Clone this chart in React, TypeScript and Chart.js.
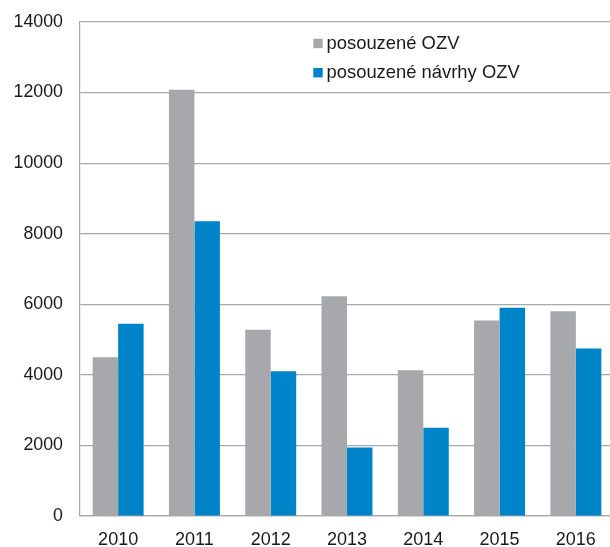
import React, { useEffect, useRef } from "react";
import { Chart, registerables } from "chart.js";

Chart.register(...registerables);

const categories = ["2010", "2011", "2012", "2013", "2014", "2015", "2016"];
const seriesOZV = [4500, 12080, 5280, 6230, 4130, 5540, 5800];
const seriesNavrhy = [5450, 8350, 4100, 1940, 2500, 5900, 4750];
const seriesLabels = ["posouzené OZV", "posouzené návrhy OZV"];
const seriesColors = ["#a7a8ab", "#0084c9"];
const yTicks = [0, 2000, 4000, 6000, 8000, 10000, 12000, 14000];

const FONT = "'Liberation Sans', Arial, sans-serif";

const legendPlugin = {
  id: "insideLegend",
  afterDraw(chart: any) {
    const ctx = chart.ctx;
    ctx.save();
    ctx.font = `18.4px ${FONT}`;
    ctx.textBaseline = "middle";
    ctx.textAlign = "left";
    chart.data.datasets.forEach((ds: any, i: number) => {
      const y = 43.5 + i * 29.2;
      ctx.fillStyle = ds.backgroundColor;
      ctx.fillRect(313.3, y - 4.7, 9.4, 9.4);
      ctx.fillStyle = "#1a1a1a";
      ctx.fillText(ds.label, 326.5, y + 0.5);
    });
    ctx.restore();
  },
};

export default function App() {
  const ref = useRef<HTMLCanvasElement | null>(null);
  useEffect(() => {
    document.body.style.margin = "0";
    document.body.style.overflow = "hidden";
    const chart = new Chart(ref.current as HTMLCanvasElement, {
      type: "bar",
      data: {
        labels: categories,
        datasets: [
          { label: seriesLabels[0], data: seriesOZV, backgroundColor: seriesColors[0] },
          { label: seriesLabels[1], data: seriesNavrhy, backgroundColor: seriesColors[1] },
        ],
      },
      options: {
        responsive: false,
        animation: false,
        layout: { padding: { top: 22, right: 2, left: 0, bottom: 0 } },
        datasets: { bar: { barPercentage: 1, categoryPercentage: 0.668 } },
        plugins: { legend: { display: false }, tooltip: { enabled: false } },
        scales: {
          x: {
            grid: { display: false, drawTicks: false },
            border: { display: true, color: "#a9a9a9", width: 1.2 },
            ticks: { color: "#1a1a1a", font: { family: FONT, size: 18 }, padding: 13 },
            afterFit: (s: any) => {
              s.height = 31;
              s.paddingLeft = 0;
              s.paddingRight = 0;
            },
          },
          y: {
            min: 0,
            max: 14000,
            afterBuildTicks: (s: any) => { s.ticks = yTicks.map((v) => ({ value: v })); },
            grid: { color: "#a9a9a9", lineWidth: 1.2, drawTicks: false },
            border: { display: true, color: "#a9a9a9", width: 1.2 },
            ticks: {
              color: "#1a1a1a",
              font: { family: FONT, size: 17.8 },
              padding: 17,
              callback: (v: any) => String(v),
            },
            afterFit: (s: any) => {
              s.width = 80;
              s.paddingTop = 0;
              s.paddingBottom = 0;
            },
          },
        },
      },
      plugins: [legendPlugin],
    });
    return () => chart.destroy();
  }, []);
  return (
    <div style={{ position: "fixed", left: 0, top: 0, width: 610, height: 547, overflow: "hidden" }}>
      <canvas ref={ref} width={616} height={547} style={{ display: "block" }} />
    </div>
  );
}
